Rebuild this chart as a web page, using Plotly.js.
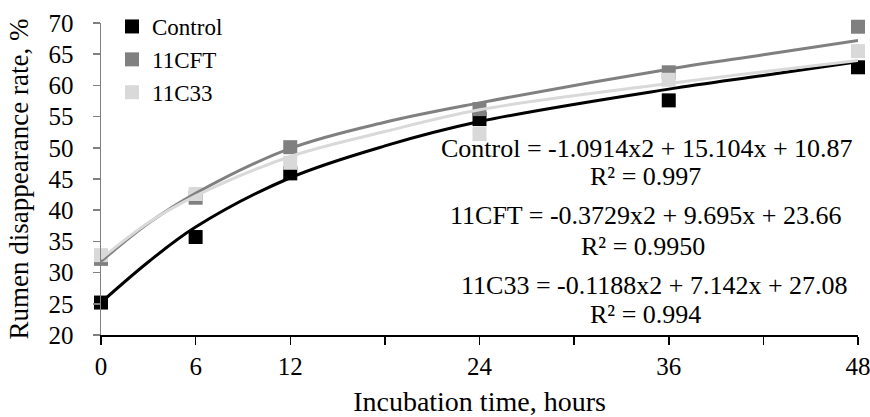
<!DOCTYPE html>
<html>
<head>
<meta charset="utf-8">
<script src="https://cdn.plot.ly/plotly-3.0.1.min.js"></script>
<style>html,body{margin:0;padding:0;background:#fff;}#chart{width:870px;height:417px;}</style>
</head>
<body>
<div id="chart"></div>
<script>
// Incubation time (hours)
const hours = [0, 6, 12, 24, 36, 48];
// Observed rumen disappearance rate, %
const controlObs = [25.2, 35.7, 45.9, 54.6, 57.6, 62.9];
const cftObs     = [32.2, 42.0, 50.1, 56.2, 62.1, 69.4];
const c33Obs     = [32.8, 42.6, 47.6, 52.2, 60.9, 65.5];
// Trend line values
const fitHours   = [0, 3, 6, 12, 18, 24, 36, 42, 48];
const controlFit = [25.2, 31.7, 37.3, 45.2, 50.3, 54.2, 59.4, 61.6, 63.8];
const cftFit     = [31.8, 37.9, 42.7, 49.9, 54.1, 57.2, 62.6, 64.9, 67.2];
const c33Fit     = [32.2, 38.0, 42.3, 48.6, 52.6, 56.1, 60.3, 62.2, 64.0];
// Series names
const seriesNames = ['Control', '11CFT', '11C33'];
// Axis ticks
const xTickVals = [0, 6, 12, 18, 24, 30, 36, 42, 48];
const xTickText = ['0', '6', '12', '', '24', '', '36', '', '48'];
// Trend equations
const eqTexts = [
  'Control = -1.0914x2 + 15.104x + 10.87', 'R² = 0.997',
  '11CFT = -0.3729x2 + 9.695x + 23.66', 'R² = 0.9950',
  '11C33 = -0.1188x2 + 7.142x + 27.08', 'R² = 0.994'
];

const colors = ['#000000', '#808080', '#d9d9d9'];
const FONT = '"Liberation Serif", "Times New Roman", serif';

const W = 870, H = 417, ML = 101, MR = 12, MT = 23, MB = 82;
const PW = W - ML - MR, PH = H - MT - MB;
const px2x = p => (p - ML) / PW;
const py2y = p => (H - MB - p) / PH;

const obs = [controlObs, cftObs, c33Obs];
const fits = [controlFit, cftFit, c33Fit];

const traces = [];
obs.forEach((ys, i) => {
  traces.push({
    x: hours, y: ys, name: seriesNames[i], type: 'scatter', mode: 'markers',
    marker: {symbol: 'square', size: 14, color: colors[i], line: {width: 0}},
    cliponaxis: false, hoverinfo: 'x+y+name'
  });
});
fits.forEach((ys, i) => {
  traces.push({
    x: fitHours, y: ys, name: seriesNames[i] + ' trend', type: 'scatter', mode: 'lines',
    line: {color: colors[i], width: 3, shape: 'spline', smoothing: 1},
    showlegend: false, hoverinfo: 'skip'
  });
});

const eqPos = [[647, 148], [645, 176.5], [645, 215.5], [643, 246], [654, 285.5], [645, 314.5]];
const annotations = eqTexts.map((t, i) => ({
  text: t, xref: 'paper', yref: 'paper',
  x: px2x(eqPos[i][0]), y: py2y(eqPos[i][1]),
  xanchor: 'center', yanchor: 'middle', showarrow: false,
  font: {family: FONT, size: 26, color: '#000'}
}));

const layout = {
  width: W, height: H,
  margin: {l: ML, r: MR, t: MT, b: MB, pad: 0, autoexpand: false},
  paper_bgcolor: '#fff', plot_bgcolor: '#fff',
  font: {family: FONT, size: 25, color: '#000'},
  showlegend: true,
  legend: {
    xref: 'paper', yref: 'container',
    x: px2x(112), y: 1 - 5 / H, xanchor: 'left', yanchor: 'top',
    bgcolor: 'rgba(0,0,0,0)', font: {family: FONT, size: 23, color: '#000'},
    itemwidth: 30, tracegroupgap: 0
  },
  xaxis: {
    range: [0, 48], tickmode: 'array', tickvals: xTickVals, ticktext: xTickText,
    ticks: 'outside', ticklen: 8, tickwidth: 1.5, tickcolor: '#000',
    showline: true, linecolor: '#000', linewidth: 2,
    showgrid: false, zeroline: false, automargin: false,
    ticklabeloverflow: 'allow',
    tickfont: {family: FONT, size: 25, color: '#000'},
    title: {text: 'Incubation time, hours', font: {family: FONT, size: 28, color: '#000'}, standoff: 16}
  },
  yaxis: {
    range: [20, 70], tickmode: 'linear', tick0: 20, dtick: 5,
    ticks: 'outside', ticklen: 7, tickwidth: 1.5, tickcolor: '#808080',
    showline: true, linecolor: '#808080', linewidth: 1.5,
    showgrid: false, zeroline: false, automargin: false,
    ticklabelstandoff: 14,
    tickfont: {family: FONT, size: 25, color: '#000'},
    title: {text: 'Rumen disappearance rate, %', font: {family: FONT, size: 27, color: '#000'}, standoff: 12}
  },
  annotations: annotations
};

Plotly.newPlot('chart', traces, layout, {displayModeBar: false, staticPlot: true});
</script>
</body>
</html>
